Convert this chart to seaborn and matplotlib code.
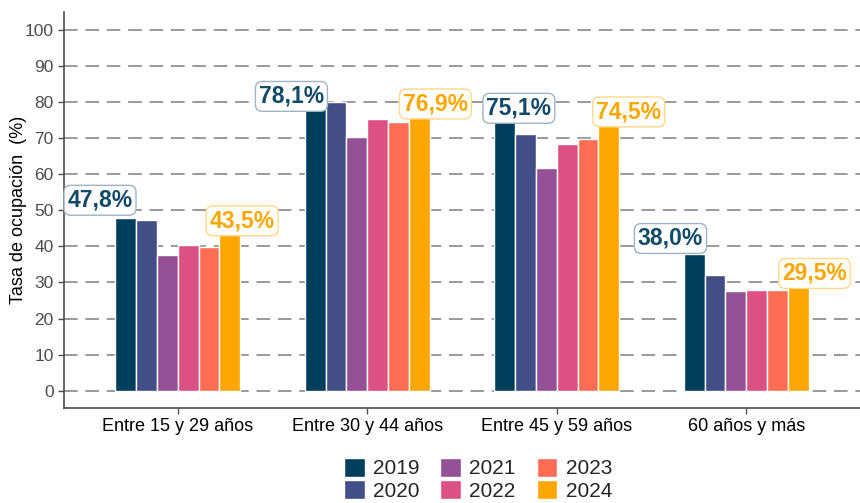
import matplotlib
matplotlib.use("Agg")
import matplotlib.pyplot as plt
import numpy as np
import pandas as pd
import seaborn as sns

grupos = ["Entre 15 y 29 años", "Entre 30 y 44 años", "Entre 45 y 59 años", "60 años y más"]
anios = ["2019", "2020", "2021", "2022", "2023", "2024"]
tasa_2019 = [47.8, 78.1, 75.1, 38.0]
tasa_2020 = [47.4, 80.0, 71.1, 32.0]
tasa_2021 = [37.5, 70.4, 61.7, 27.7]
tasa_2022 = [40.3, 75.2, 68.4, 27.9]
tasa_2023 = [39.9, 74.4, 69.7, 28.0]
tasa_2024 = [43.5, 76.9, 74.5, 29.5]
colores = ["#003f5c", "#444e86", "#955196", "#dd5182", "#ff6e54", "#ffa600"]

series = [tasa_2019, tasa_2020, tasa_2021, tasa_2022, tasa_2023, tasa_2024]
df = pd.DataFrame({
    "grupo": np.tile(grupos, len(anios)),
    "anio": np.repeat(anios, len(grupos)),
    "tasa": np.concatenate(series),
})

sns.set_theme(style="white")
plt.rcParams["font.family"] = ["Liberation Sans", "DejaVu Sans"]

fig = plt.figure(figsize=(8.6, 5.03), dpi=100)
ax = fig.add_axes([64 / 860, 95 / 503, 796 / 860, 396 / 503])

sns.barplot(data=df, x="grupo", y="tasa", hue="anio", palette=colores,
            width=0.66, gap=0, saturation=1, ax=ax, zorder=3)

ax.set_ylim(-4.8, 105)
ax.set_xlim(-0.6, 3.6)
ax.set_yticks(range(0, 101, 10))
ax.yaxis.grid(True, color="#9a9a9a", linestyle=(0, (7, 4)), linewidth=1.4, zorder=0)
ax.set_axisbelow(True)
ax.set_xlabel("")
ax.set_ylabel("Tasa de ocupación  (%)", fontsize=13, color="black")
ax.yaxis.set_label_coords(-0.047, 0.5)
ax.tick_params(axis="y", labelsize=12.5, colors="#4d4d4d", length=4, width=1, left=True)
ax.tick_params(axis="x", labelsize=13, labelcolor="black", color="#4d4d4d", length=4, width=1, bottom=True)
for s in ["top", "right"]:
    ax.spines[s].set_visible(False)
for s in ["left", "bottom"]:
    ax.spines[s].set_color("#4d4d4d")
    ax.spines[s].set_linewidth(1.2)

# etiquetas de 2019 y 2024
nudge_ini = [-0.41, -0.40, -0.20, -0.40]
nudge_fin = [0.34, 0.36, 0.38, 0.36]
alto_ini = [5.0, 3.5, 3.2, 4.2]
alto_fin = [3.6, 2.6, 2.8, 3.0]
caja_ini = dict(boxstyle="round,pad=0.15,rounding_size=0.3", fc="white", ec="#9fb3c2", lw=1)
caja_fin = dict(boxstyle="round,pad=0.15,rounding_size=0.3", fc="white", ec="#ffd98a", lw=1)
for i in range(len(grupos)):
    ax.text(i + nudge_ini[i], tasa_2019[i] + alto_ini[i], f"{tasa_2019[i]:.1f}%".replace(".", ","),
            ha="center", va="center", fontsize=16.5, fontweight="bold", color="#134a69",
            bbox=caja_ini, zorder=5)
    ax.text(i + nudge_fin[i], tasa_2024[i] + alto_fin[i], f"{tasa_2024[i]:.1f}%".replace(".", ","),
            ha="center", va="center", fontsize=16.5, fontweight="bold", color="#ffa600",
            bbox=caja_fin, zorder=5)

handles, labels = ax.get_legend_handles_labels()
ax.legend(handles, labels, ncol=3, loc="upper center", bbox_to_anchor=(0.52, -0.105),
          frameon=False, fontsize=15, handlelength=1.0, handleheight=1.0,
          columnspacing=1.0, handletextpad=0.4, labelspacing=0.1, borderaxespad=0)

fig.savefig("out.png", dpi=100)
